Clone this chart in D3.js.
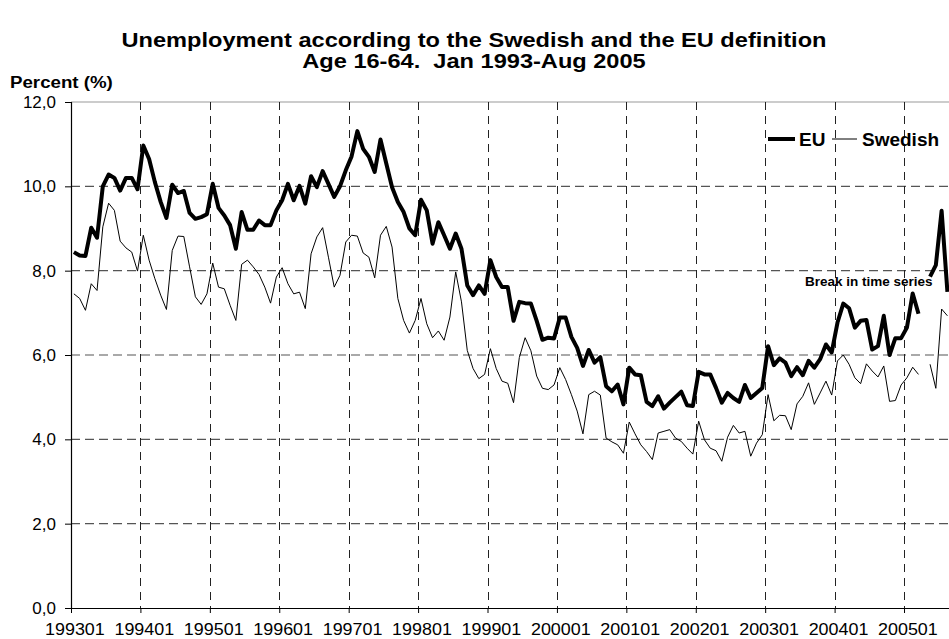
<!DOCTYPE html>
<html>
<head>
<meta charset="utf-8">
<script src="https://cdn.jsdelivr.net/npm/d3@7"></script>
<style>
  body { margin: 0; background: #fff; }
  text { font-family: Arial, "Liberation Sans", sans-serif; fill: #000; }
</style>
</head>
<body>
<div id="chart"></div>
<script>
// monthly data Jan 1993 - Aug 2005 (null = break in time series)
const tickLabels = ["199301","199401","199501","199601","199701","199801","199901",
                    "200001","200101","200201","200301","200401","200501"];
const yTicks = [0, 2, 4, 6, 8, 10, 12];

const euRate = [
  8.44, 8.36, 8.35, 9.02, 8.78, 10.0, 10.28, 10.2, 9.9, 10.2, 10.2, 9.93,
  10.97, 10.65, 10.1, 9.63, 9.25, 10.04, 9.84, 9.89, 9.37, 9.23, 9.27, 9.34,
  10.06, 9.49, 9.31, 9.08, 8.52, 9.39, 8.97, 8.97, 9.19, 9.08, 9.08, 9.43,
  9.67, 10.06, 9.67, 10.01, 9.59, 10.24, 9.98, 10.36, 10.06, 9.75, 10.0, 10.38,
  10.71, 11.31, 10.89, 10.7, 10.34, 11.11, 10.54, 9.98, 9.63, 9.39, 9.0, 8.84,
  9.68, 9.43, 8.64, 9.15, 8.84, 8.52, 8.88, 8.52, 7.65, 7.42, 7.65, 7.45,
  8.25, 7.85, 7.61, 7.61, 6.81, 7.26, 7.23, 7.22, 6.81, 6.36, 6.41, 6.39,
  6.89, 6.89, 6.43, 6.17, 5.74, 6.12, 5.82, 5.95, 5.26, 5.14, 5.3, 4.83,
  5.7, 5.54, 5.52, 4.89, 4.79, 5.02, 4.73, 4.87, 5.0, 5.13, 4.81, 4.79,
  5.6, 5.54, 5.54, 5.22, 4.87, 5.1, 4.98, 4.89, 5.29, 4.98, 5.1, 5.22,
  6.21, 5.76, 5.92, 5.82, 5.5, 5.71, 5.52, 5.86, 5.7, 5.9, 6.25, 6.06,
  6.77, 7.22, 7.11, 6.65, 6.81, 6.83, 6.13, 6.21, 6.93, 6.0, 6.4, 6.4,
  6.65, 7.46, 6.98, null, 7.86, 8.13, 9.42, 7.5
];

const swedishRate = [
  7.45, 7.34, 7.06, 7.69, 7.53, 9.04, 9.6, 9.43, 8.7, 8.54, 8.44, 7.99,
  8.84, 8.25, 7.81, 7.42, 7.08, 8.48, 8.82, 8.81, 8.09, 7.38, 7.2, 7.45,
  8.18, 7.61, 7.57, 7.18, 6.82, 8.15, 8.25, 8.09, 7.91, 7.61, 7.23, 7.85,
  8.07, 7.69, 7.45, 7.49, 7.1, 8.4, 8.8, 9.02, 8.32, 7.61, 7.89, 8.68,
  8.84, 8.82, 8.42, 8.32, 7.83, 8.84, 9.05, 8.56, 7.34, 6.82, 6.52, 6.82,
  7.34, 6.74, 6.41, 6.57, 6.35, 6.9, 7.97, 7.26, 6.11, 5.68, 5.44, 5.54,
  6.15, 5.68, 5.38, 5.33, 4.87, 5.94, 6.41, 6.1, 5.5, 5.21, 5.18, 5.29,
  5.7, 5.42, 5.06, 4.67, 4.13, 5.06, 5.14, 5.05, 4.03, 3.94, 3.87, 3.67,
  4.41, 4.13, 3.87, 3.71, 3.52, 4.15, 4.19, 4.23, 4.03, 3.95, 3.79, 3.65,
  4.43, 3.99, 3.79, 3.73, 3.48, 4.05, 4.33, 4.15, 4.19, 3.6, 3.91, 4.11,
  5.06, 4.44, 4.57, 4.56, 4.23, 4.84, 5.02, 5.34, 4.83, 5.1, 5.38, 5.05,
  5.86, 6.0, 5.78, 5.46, 5.32, 5.79, 5.62, 5.48, 5.74, 4.9, 4.92, 5.29,
  5.46, 5.71, 5.54, null, 5.78, 5.21, 7.09, 6.93
];

const width = 949, height = 639;
const nCat = euRate.length;

const svg = d3.select("#chart").append("svg")
  .attr("width", width)
  .attr("height", height);

svg.append("rect").attr("width", width).attr("height", height).attr("fill", "#fff");

// categories: points sit in the middle of each month slot
const x = d3.scaleLinear().domain([0, nCat]).range([71, 950.3]);
const y = d3.scaleLinear().domain([0, 12]).range([608, 102]);

const fmt = d => d3.format(".1f")(d).replace(".", ",");

// horizontal grid
svg.append("g")
  .selectAll("line")
  .data(yTicks.filter(d => d > 0 && d < 12))
  .join("line")
  .attr("x1", x(0)).attr("x2", width)
  .attr("y1", d => y(d)).attr("y2", d => y(d))
  .attr("stroke", "#555")
  .attr("stroke-width", 1.2)
  .attr("stroke-dasharray", "9,5");

// top border of plot area
svg.append("line")
  .attr("x1", x(0)).attr("x2", width)
  .attr("y1", y(12)).attr("y2", y(12))
  .attr("stroke", "#999").attr("stroke-width", 1.2);

// vertical grid at each January
svg.append("g")
  .selectAll("line")
  .data(d3.range(1, tickLabels.length))
  .join("line")
  .attr("x1", d => Math.round(x(d * 12)) + 0.5).attr("x2", d => Math.round(x(d * 12)) + 0.5)
  .attr("y1", y(12)).attr("y2", y(0))
  .attr("stroke", "#222")
  .attr("stroke-width", 1)
  .attr("stroke-dasharray", "8,6");

// y axis
const yAxis = svg.append("g")
  .attr("transform", `translate(${x(0)},0)`)
  .call(d3.axisLeft(y).tickValues(yTicks).tickFormat(fmt).tickSize(6).tickPadding(9));
yAxis.select(".domain").attr("stroke", "#000").attr("stroke-width", 1.2);
yAxis.selectAll(".tick line").attr("stroke", "#000");
yAxis.selectAll(".tick text")
  .style("font-size", "17px")
  .attr("font-family", null);

// x axis with ticks at each January boundary
const xAxis = svg.append("g")
  .attr("transform", `translate(0,${y(0)})`)
  .call(d3.axisBottom(x).tickValues(d3.range(0, nCat + 1, 12)).tickFormat("").tickSize(5).tickSizeOuter(0));
xAxis.select(".domain").attr("stroke", "#000").attr("stroke-width", 1.2);
xAxis.selectAll(".tick line").attr("stroke", "#000");

// category labels, slightly wide like the original
svg.append("g")
  .selectAll("text")
  .data(tickLabels)
  .join("text")
  .attr("transform", (d, i) => `translate(${x(i * 12 + 0.5) + 1},635) scale(1.12,1)`)
  .attr("text-anchor", "middle")
  .style("font-size", "16px")
  .text(d => d);

// series
const line = d3.line()
  .defined(d => d != null)
  .x((d, i) => x(i + 0.5))
  .y(d => y(d));

svg.append("path")
  .datum(swedishRate)
  .attr("fill", "none")
  .attr("stroke", "#000")
  .attr("stroke-width", 1)
  .attr("stroke-linejoin", "round")
  .attr("d", line);

svg.append("path")
  .datum(euRate)
  .attr("fill", "none")
  .attr("stroke", "#000")
  .attr("stroke-width", 4)
  .attr("stroke-linejoin", "round")
  .attr("d", line);

// titles (stretched horizontally as in the source image)
svg.append("text")
  .attr("transform", "translate(474,47) scale(1.18,1)")
  .attr("text-anchor", "middle")
  .style("font-size", "20px").style("font-weight", "bold")
  .text("Unemployment according to the Swedish and the EU definition");
svg.append("text")
  .attr("transform", "translate(474,68) scale(1.18,1)")
  .attr("text-anchor", "middle")
  .style("font-size", "20px").style("font-weight", "bold")
  .style("white-space", "pre")
  .text("Age 16-64.  Jan 1993-Aug 2005");
svg.append("text")
  .attr("transform", "translate(10,88) scale(1.1,1)")
  .style("font-size", "17px").style("font-weight", "bold")
  .text("Percent (%)");

// legend
const legend = svg.append("g").attr("transform", "translate(768,139)");
legend.append("line").attr("x1", 0).attr("x2", 27).attr("stroke", "#000").attr("stroke-width", 4);
legend.append("text").attr("x", 31).attr("y", 7)
  .style("font-size", "19px").style("font-weight", "bold").text("EU");
legend.append("line").attr("x1", 64).attr("x2", 89).attr("stroke", "#000").attr("stroke-width", 1);
legend.append("text").attr("x", 94).attr("y", 7)
  .style("font-size", "19px").style("font-weight", "bold").text("Swedish");

// break annotation
svg.append("text")
  .attr("x", 805).attr("y", 286)
  .style("font-size", "13.5px").style("font-weight", "bold")
  .text("Break in time series");
</script>
</body>
</html>
